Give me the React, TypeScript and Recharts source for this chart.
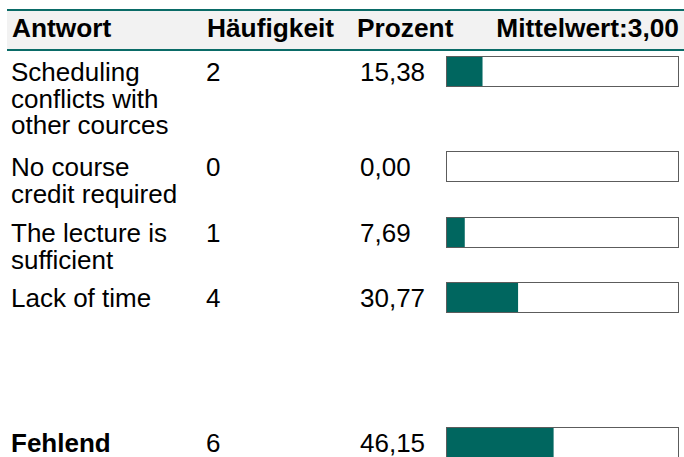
import { BarChart, Bar, XAxis, YAxis } from 'recharts';

// Answer rows
const answers = [
  'Scheduling\nconflicts with\nother cources',
  'No course\ncredit required',
  'The lecture is\nsufficient',
  'Lack of time',
];
const counts = [2, 0, 1, 4];
const percents = [15.38, 0.0, 7.69, 30.77];

const missingLabel = 'Fehlend';
const missingCount = 6;
const missingPercent = 46.15;

const headers = ['Antwort', 'Häufigkeit', 'Prozent'];
const meanLabel = 'Mittelwert:';
const meanValue = 3.0;

// layout
const ROW_TOPS = [56, 151, 217, 282, 427];
const FONT = '"Liberation Sans", Arial, sans-serif';
const TEAL = '#00665f';
const LINE = '#0a6b67';

const fmt = (v: number) => v.toFixed(2).replace('.', ',');

// the outlined box is a plain div, the fill inside it comes from recharts
function RowBar({ value, top }: { value: number; top: number }) {
  return (
    <div
      style={{
        position: 'absolute',
        left: 446,
        top,
        width: 233,
        height: 31,
        boxSizing: 'border-box',
        border: '1px solid #5c5c5c',
        background: '#fff',
      }}
    >
      <BarChart
        width={231}
        height={29}
        data={[{ name: 'row', value }]}
        layout="vertical"
        margin={{ top: 0, right: 0, bottom: 0, left: 0 }}
        barCategoryGap={0}
      >
        <XAxis type="number" domain={[0, 100]} hide />
        <YAxis type="category" dataKey="name" hide />
        <Bar dataKey="value" fill={TEAL} isAnimationActive={false} />
      </BarChart>
    </div>
  );
}

const textBase: React.CSSProperties = {
  position: 'absolute',
  fontFamily: FONT,
  fontSize: 26,
  lineHeight: '26.5px',
  color: '#000',
  whiteSpace: 'pre-line',
};

const headText: React.CSSProperties = { ...textBase, fontSize: 26.3, fontWeight: 'bold', top: 14.6 };

export default function App() {
  const rows = answers.map((a, i) => ({ label: a, count: counts[i], pct: percents[i], bold: false }));
  rows.push({ label: missingLabel, count: missingCount, pct: missingPercent, bold: true });

  return (
    <div
      style={{
        position: 'absolute',
        left: 0,
        top: 0,
        width: 684,
        height: 457,
        overflow: 'hidden',
        background: '#fff',
      }}
    >
      {/* header band */}
      <div
        style={{
          position: 'absolute',
          left: 7,
          top: 9,
          width: 677,
          height: 38,
          background: '#f2f2f2',
          borderTop: `2px solid ${LINE}`,
          borderBottom: `2px solid ${LINE}`,
        }}
      />
      <div style={{ ...headText, left: 12 }}>{headers[0]}</div>
      <div style={{ ...headText, left: 207 }}>{headers[1]}</div>
      <div style={{ ...headText, left: 357 }}>{headers[2]}</div>
      <div style={{ ...headText, right: 5 }}>
        {meanLabel}
        {fmt(meanValue)}
      </div>

      {rows.map((r, i) => {
        const top = ROW_TOPS[i] + 3.2;
        return (
          <div key={r.label}>
            <div style={{ ...textBase, left: 11, top, fontWeight: r.bold ? 'bold' : 'normal' }}>{r.label}</div>
            <div style={{ ...textBase, left: 206, top }}>{r.count}</div>
            <div style={{ ...textBase, left: 360, top }}>{fmt(r.pct)}</div>
            <RowBar value={r.pct} top={ROW_TOPS[i]} />
          </div>
        );
      })}
    </div>
  );
}
